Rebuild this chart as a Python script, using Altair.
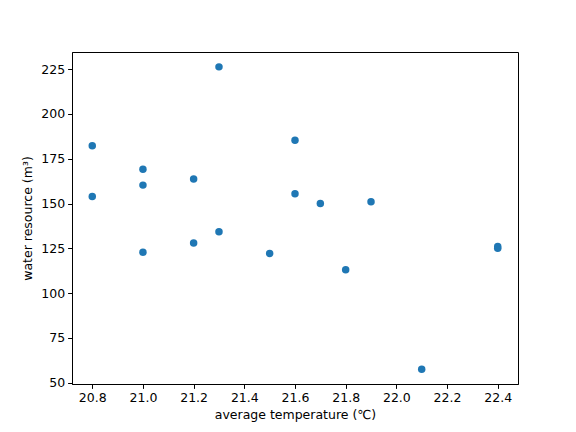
import altair as alt
import pandas as pd

temperature = [20.8, 20.8, 21.0, 21.0, 21.0, 21.2, 21.2, 21.3, 21.3, 21.5,
               21.6, 21.6, 21.7, 21.8, 21.9, 22.1, 22.4, 22.4]
water = [182.3, 154.0, 169.1, 160.3, 122.8, 163.7, 128.0, 226.3, 134.3, 122.2,
         185.3, 155.5, 150.1, 113.1, 151.0, 57.5, 126.0, 125.0]

x_ticks = [20.8, 21.0, 21.2, 21.4, 21.6, 21.8, 22.0, 22.2, 22.4]
y_ticks = [50, 75, 100, 125, 150, 175, 200, 225]

df = pd.DataFrame({"temperature": temperature, "water": water})

font = "DejaVu Sans"

chart = alt.Chart(df).mark_circle(size=56, color="#1f77b4", opacity=1).encode(
    x=alt.X("temperature:Q",
            scale=alt.Scale(domain=[20.72, 22.48], nice=False, zero=False),
            axis=alt.Axis(title="average temperature (℃)", values=x_ticks, format=".1f",
                          grid=False, tickSize=4.4, labelPadding=3, titlePadding=5,
                          domainColor="black", tickColor="black", labelColor="black",
                          titleColor="black", labelFont=font, titleFont=font,
                          labelFontSize=12.5, titleFontSize=12.5, titleFontWeight="normal",
                          domainWidth=1, tickWidth=1)),
    y=alt.Y("water:Q",
            scale=alt.Scale(domain=[49.3, 234.6], nice=False, zero=False),
            axis=alt.Axis(title="water resource (m³)", values=y_ticks,
                          grid=False, tickSize=4.4, labelPadding=3, titlePadding=6,
                          domainColor="black", tickColor="black", labelColor="black",
                          titleColor="black", labelFont=font, titleFont=font,
                          labelFontSize=12.5, titleFontSize=12.5, titleFontWeight="normal",
                          domainWidth=1, tickWidth=1)),
).properties(
    width=446, height=332,
    autosize=alt.AutoSizeParams(type="none"),
    padding={"left": 64, "top": 44, "right": 50, "bottom": 40},
).configure_view(stroke="black", strokeWidth=1)

chart.save("out.html", embed_options={"renderer": "svg", "actions": False})
